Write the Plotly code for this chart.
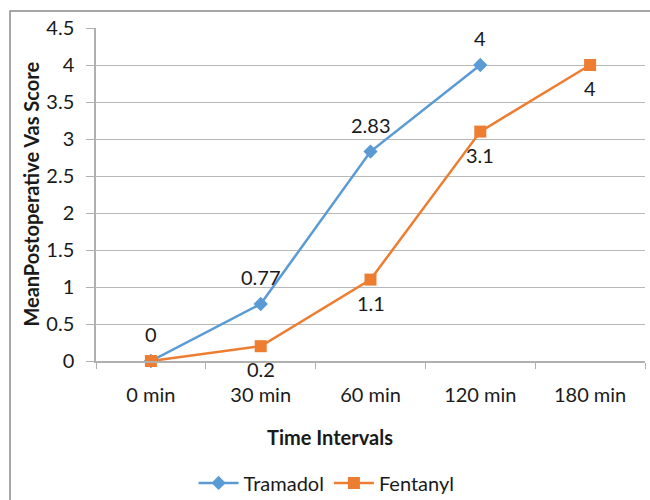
import plotly.graph_objects as go

categories = ["0 min", "30 min", "60 min", "120 min", "180 min"]
tramadol = [0, 0.77, 2.83, 4, None]
fentanyl = [0, 0.2, 1.1, 3.1, 4]
tramadol_labels = ["0", "0.77", "2.83", "4", ""]
fentanyl_labels = ["", "0.2", "1.1", "3.1", "4"]
y_ticks = [0, 0.5, 1, 1.5, 2, 2.5, 3, 3.5, 4, 4.5]
y_tick_text = ["0", "0.5", "1", "1.5", "2", "2.5", "3", "3.5", "4", "4.5"]

FONT = "Lato, 'Open Sans', sans-serif"
FS = 20

fig = go.Figure()
fig.add_trace(go.Scatter(
    x=categories, y=tramadol, name="Tramadol", mode="lines+markers",
    line=dict(color="#5B9BD5", width=2.5),
    marker=dict(symbol="diamond", size=11, color="#5B9BD5"),
    cliponaxis=False,
))
fig.add_trace(go.Scatter(
    x=categories, y=fentanyl, name="Fentanyl", mode="lines+markers",
    line=dict(color="#ED7D31", width=2.5),
    marker=dict(symbol="square", size=12, color="#ED7D31"),
    cliponaxis=False,
))

annotations = []
for c, v, t in zip(categories, tramadol, tramadol_labels):
    if v is not None and t:
        annotations.append(dict(x=c, y=v, xref="x", yref="y", text=t, showarrow=False,
                                yshift=27, font=dict(size=FS, family=FONT, color="#1a1a1a")))
for c, v, t in zip(categories, fentanyl, fentanyl_labels):
    if v is not None and t:
        annotations.append(dict(x=c, y=v, xref="x", yref="y", text=t, showarrow=False,
                                yshift=-23, font=dict(size=FS, family=FONT, color="#1a1a1a")))

annotations += [
    dict(text="<b>Time Intervals</b>", xref="paper", yref="paper",
         x=0.426, y=-0.228, showarrow=False, font=dict(size=FS, family=FONT),
         xanchor="center", yanchor="middle"),
    dict(text="<b>MeanPostoperative Vas Score</b>", xref="paper", yref="paper",
         x=-0.12, y=0.5, showarrow=False, textangle=-90,
         font=dict(size=FS, family=FONT), xanchor="center", yanchor="middle"),
]

fig.update_layout(
    width=650, height=500,
    margin=dict(l=96, r=5, t=28, b=139, autoexpand=False),
    paper_bgcolor="white", plot_bgcolor="white",
    font=dict(family=FONT, size=FS, color="#1a1a1a"),
    showlegend=True,
    legend=dict(orientation="h", x=0.42, xanchor="center", y=-0.366, yanchor="middle",
                font=dict(size=FS, family=FONT), itemwidth=40, traceorder="normal"),
    xaxis=dict(
        type="category", range=[-0.5, 4.5], tickson="boundaries",
        ticks="outside", ticklen=6, tickcolor="#b0b0b0",
        showline=True, linecolor="#b0b0b0", linewidth=1.5,
        showgrid=False, tickfont=dict(size=FS, family=FONT), zeroline=False,
        ticklabelstandoff=15, automargin=False,
    ),
    yaxis=dict(
        range=[0, 4.5], tickvals=y_ticks, ticktext=y_tick_text,
        ticks="outside", ticklen=8, tickcolor="#b0b0b0",
        showline=True, linecolor="#b0b0b0", linewidth=1.5,
        showgrid=True, gridcolor="#b8b8b8", gridwidth=1.2,
        tickfont=dict(size=FS, family=FONT), zeroline=False,
        ticklabelstandoff=8, automargin=False,
    ),
    annotations=annotations,
    shapes=[
        dict(type="rect", xref="paper", yref="paper", x0=-0.1566, x1=1.05,
             y0=-0.6, y1=1.051, line=dict(color="#8a8a8a", width=1.5),
             fillcolor="rgba(0,0,0,0)", layer="below"),
    ],
)

fig.write_html("out.html")
